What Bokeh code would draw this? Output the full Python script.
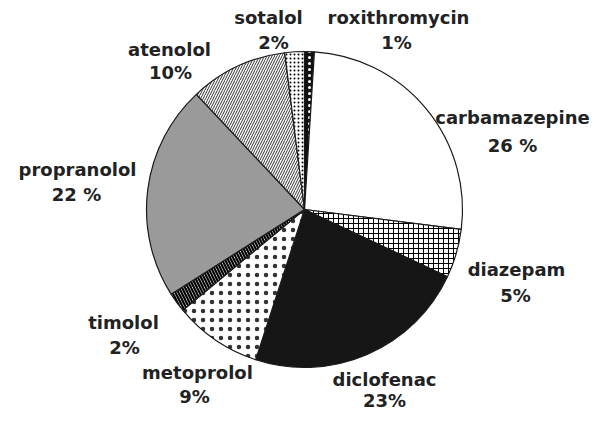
import numpy as np
from bokeh.plotting import figure
from bokeh.models import ColumnDataSource, Range1d
from bokeh.core.properties import value
from bokeh.embed import file_html
from bokeh.resources import INLINE

# ---- data (clockwise from 12 o'clock) ----
drugs = ["roxithromycin", "carbamazepine", "diazepam", "diclofenac", "metoprolol",
         "timolol", "propranolol", "atenolol", "sotalol"]
shares = [1, 26, 5, 23, 9, 2, 22, 10, 2]
pct_labels = ["1%", "26 %", "5%", "23%", "9%", "2%", "22 %", "10%", "2%"]

# ---- styles ----
fills = ["#111111", "#ffffff", "#ffffff", "#161616", "#ffffff", "#ffffff", "#9a9a9a", "#ffffff", "#ffffff"]
hatches = ["dot", "blank", "cross", "blank", "dot", "left_diagonal_line", "blank", "right_diagonal_line", "dot"]
hatch_cols = ["#ffffff", "#000000", "#000000", "#000000", "#333333", "#000000", "#000000", "#000000", "#000000"]
hatch_scales = [6, 6, 5, 6, 9, 6, 6, 5, 4]
hatch_weights = [1.2, 1, 1, 1, 0.3, 2.2, 1, 0.8, 2.5]

# label positions (name line, percentage line), picture pixels from top-left
name_xy = [(398, 17), (512, 117), (516, 269), (384, 379), (197, 372),
           (123, 322), (77, 169), (169, 49), (268, 17)]
pct_xy = [(396, 42), (512, 145), (515, 295), (384, 400), (194, 396),
          (124, 347), (76, 194), (170, 72), (273, 42)]

W, H = 592, 413
cx, cy, r = 304, H - 209, 158

frac = np.array(shares, dtype=float) / np.sum(shares)
cum = np.concatenate([[0.0], np.cumsum(frac)])
start = np.pi / 2 - 2 * np.pi * cum[:-1]
end = np.pi / 2 - 2 * np.pi * cum[1:]

src = ColumnDataSource(dict(
    start=start, end=end, fill=fills, hatch=hatches, hcol=hatch_cols,
    hscale=hatch_scales, hweight=hatch_weights, name=drugs,
))

p = figure(width=W, height=H, output_backend="svg", toolbar_location=None,
           x_range=Range1d(0, W), y_range=Range1d(0, H),
           min_border=0, outline_line_color=None)
p.axis.visible = False
p.grid.visible = False
p.background_fill_color = "white"
p.border_fill_color = "white"

p.wedge(x=cx, y=cy, radius=r, start_angle="start", end_angle="end", direction="clock",
        fill_color="fill", line_color="#1a1a1a", line_width=1.2,
        hatch_pattern="hatch", hatch_color="hcol", hatch_scale="hscale",
        hatch_weight="hweight", source=src)

lab = ColumnDataSource(dict(
    x=[q[0] for q in name_xy], y=[H - q[1] for q in name_xy], t=drugs,
))
lab2 = ColumnDataSource(dict(
    x=[q[0] for q in pct_xy], y=[H - q[1] for q in pct_xy], t=pct_labels,
))
for s in (lab, lab2):
    p.text(x="x", y="y", text="t", source=s, text_align="center", text_baseline="middle",
           text_font=value("DejaVu Sans"), text_font_style="bold",
           text_font_size="18px", text_color="#222222")

open("out.html", "w").write(file_html(p, INLINE))
